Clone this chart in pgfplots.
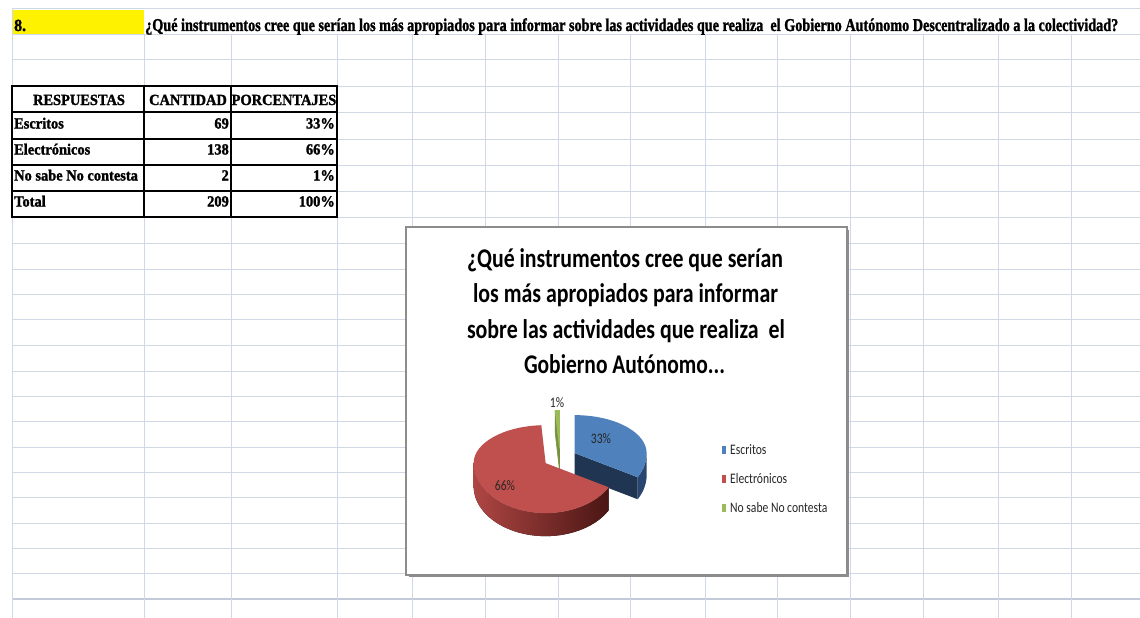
\documentclass[border=0pt]{standalone}
\usepackage{pgfplots}
\pgfplotsset{compat=1.18}
\usepackage{pgfplotstable}
\usepackage{graphicx}
\usepackage{fontspec}
\usetikzlibrary{calc}
\setmainfont{Carlito}
\newfontfamily\tnr{Liberation Serif}[FakeStretch=0.93,FakeBold=1.5]
\newfontfamily\calN{Carlito}[FakeStretch=0.8]
\definecolor{gridc}{HTML}{D0D7E5}
\definecolor{gridd}{HTML}{C3CBDB}
\definecolor{blueT}{HTML}{4F81BD}
\definecolor{blueS}{HTML}{1F3552}
\definecolor{blueS2}{HTML}{2A4670}
\definecolor{redT}{HTML}{C0504D}
\definecolor{redL}{HTML}{AE4643}
\definecolor{redM}{HTML}{963835}
\definecolor{redD}{HTML}{4A1614}
\definecolor{greenT}{HTML}{9BBB59}
\definecolor{greenS}{HTML}{76923C}
\definecolor{boxc}{HTML}{8C8C8C}
\definecolor{txt}{HTML}{262626}

\pgfplotstableread{
resp cant
Escritos 69
Electronicos 138
NoSabe 2
}\datatable

\newcommand\tb{\tnr\bfseries\fontsize{15.5}{15.5}\selectfont}
\newcommand\lgf{\calN\fontsize{14.5}{14.5}\selectfont}

\begin{document}%
\begin{tikzpicture}
\pgfplotstablegetelem{0}{cant}\of\datatable\edef\vA{\pgfplotsretval}
\pgfplotstablegetelem{1}{cant}\of\datatable\edef\vB{\pgfplotsretval}
\pgfplotstablegetelem{2}{cant}\of\datatable\edef\vC{\pgfplotsretval}
\pgfmathsetmacro\tot{\vA+\vB+\vC}
\pgfmathsetmacro\fA{\vA/\tot}
\pgfmathsetmacro\fB{\vB/\tot}
\pgfmathsetmacro\aB{90-360*\fA}
\pgfmathsetmacro\aC{\aB-360*\fB}
\pgfmathsetmacro\mB{(\aB+90)/2}
\pgfmathsetmacro\mR{(\aC+\aB)/2}
\pgfmathsetmacro\mG{(\aC-270)/2}
\def\rx{72pt}\def\ryB{38pt}\def\ryF{50pt}
\begin{axis}[x=1pt,y=1pt,y dir=reverse,xmin=0,xmax=1140,ymin=0,ymax=618,
  hide axis, clip=false]
\coordinate (TL) at (axis cs:0,0);
\coordinate (BR) at (axis cs:1140,618);
% yellow cell
\fill[yellow] (axis cs:12,10) rectangle (axis cs:144,35);
% spreadsheet grid
\pgfplotsinvokeforeach{9,35,60,86,112,139,165,191,217,243,269,294,319,345,371,396,421,447,472,497,523,548,573}{
  \draw[gridc,line width=1pt] (axis cs:12,#1) -- (axis cs:1140,#1);}
\draw[gridd,line width=2pt] (axis cs:12,599) -- (axis cs:1140,599);
\pgfplotsinvokeforeach{144,231,337,412,485,558,630,705,777,850,923,998,1071}{
  \draw[gridc,line width=1pt] (axis cs:#1,35) -- (axis cs:#1,618);}
\draw[gridc,line width=1pt] (axis cs:12,9) -- (axis cs:12,618);
% title row
\node[anchor=base west,inner sep=0] at (axis cs:14,31) {\tnr\bfseries\fontsize{17}{17}\selectfont 8.};
\node[anchor=base west,inner sep=0] at (axis cs:145,31) {\resizebox{973pt}{\height}{\tnr\bfseries\fontsize{18}{18}\selectfont ¿Qué instrumentos cree que serían los más apropiados para informar sobre las actividades que realiza\ \ el Gobierno Autónomo Descentralizado a la colectividad?}};
% table
\draw[black,line width=1.8pt] (axis cs:12,86) rectangle (axis cs:337,217);
\draw[black,line width=1.6pt] (axis cs:144,86) -- (axis cs:144,217) (axis cs:231,86) -- (axis cs:231,217)
  (axis cs:12,112) -- (axis cs:337,112) (axis cs:12,139) -- (axis cs:337,139)
  (axis cs:12,165) -- (axis cs:337,165) (axis cs:12,191) -- (axis cs:337,191);
\node[anchor=base,inner sep=0] at (axis cs:79,105) {\tb RESPUESTAS};
\node[anchor=base,inner sep=0] at (axis cs:188,105) {\tb CANTIDAD};
\node[anchor=base,inner sep=0] at (axis cs:284,105) {\tb PORCENTAJES};
\node[anchor=base west,inner sep=0] at (axis cs:14,128.5) {\tb Escritos};
\node[anchor=base west,inner sep=0] at (axis cs:14,154.5) {\tb Electrónicos};
\node[anchor=base west,inner sep=0] at (axis cs:14,180.5) {\tb No sabe No contesta};
\node[anchor=base west,inner sep=0] at (axis cs:14,206.5) {\tb Total};
\node[anchor=base east,inner sep=0] at (axis cs:229,128.5) {\tb 69};
\node[anchor=base east,inner sep=0] at (axis cs:229,154.5) {\tb 138};
\node[anchor=base east,inner sep=0] at (axis cs:229,180.5) {\tb 2};
\node[anchor=base east,inner sep=0] at (axis cs:229,206.5) {\tb 209};
\node[anchor=base east,inner sep=0] at (axis cs:335,128.5) {\tb 33\%};
\node[anchor=base east,inner sep=0] at (axis cs:335,154.5) {\tb 66\%};
\node[anchor=base east,inner sep=0] at (axis cs:335,180.5) {\tb 1\%};
\node[anchor=base east,inner sep=0] at (axis cs:335,206.5) {\tb 100\%};
% chart box
\fill[black!45] (axis cs:408.5,229.5) rectangle (axis cs:849,577);
\filldraw[fill=white,draw=boxc,line width=1.3pt] (axis cs:406,227) rectangle (axis cs:847,575);
% chart title
\node[anchor=base,inner sep=0] at (axis cs:625,267) {\resizebox{316pt}{\height}{\bfseries\fontsize{27}{27}\selectfont ¿Qué instrumentos cree que serían}};
\node[anchor=base,inner sep=0] at (axis cs:625.5,302) {\resizebox{305pt}{\height}{\bfseries\fontsize{27}{27}\selectfont los más apropiados para informar}};
\node[anchor=base,inner sep=0] at (axis cs:626,338) {\resizebox{318pt}{\height}{\bfseries\fontsize{27}{27}\selectfont sobre las actividades que realiza\ \ el}};
\node[anchor=base,inner sep=0] at (axis cs:624.5,373) {\resizebox{201pt}{\height}{\bfseries\fontsize{27}{27}\selectfont Gobierno Autónomo...}};
% pie
\coordinate (C) at (axis cs:560,458);
\coordinate (Cb) at ($(C)+(\mB:17pt and 9.6pt)$);
\coordinate (Cr) at ($(C)+(\mR:17pt and 9.6pt)$);
\coordinate (Cg) at ($(C)+(\mG:17pt and 9.6pt)$);
% green slice
\filldraw[greenS,line width=0.6pt] (Cg) -- ($(Cg)+(\aC:72pt and 38pt)$) -- ($(Cg)+(\aC:72pt and 38pt)+(0,-22pt)$) -- ($(Cg)+(0,-22pt)$) -- cycle;
\filldraw[greenT,line width=0.6pt] (Cg) -- ($(Cg)+(-270:72pt and 38pt)$) arc[start angle=-270,end angle=\aC,x radius=\rx,y radius=\ryB] -- cycle;
% blue slice
\fill[blueS2] ($(Cb)+(\aB:72pt and 50pt)$) arc[start angle=\aB,end angle=0,x radius=\rx,y radius=\ryF] -- ++(0,-22pt) arc[start angle=0,end angle=\aB,x radius=\rx,y radius=\ryF] -- cycle;
\fill[blueS] (Cb) -- ($(Cb)+(\aB:72pt and 50pt)$) -- ++(0,-22pt) -- ($(Cb)+(0,-22pt)$) -- cycle;
\fill[blueT] (Cb) -- ($(Cb)+(\aB:72pt and 50pt)$) arc[start angle=\aB,end angle=0,x radius=\rx,y radius=\ryF] arc[start angle=0,end angle=90,x radius=\rx,y radius=\ryB] -- cycle;
% red slice
\fill[left color=redL,middle color=redM,right color=redD] ($(Cr)+(-180:72pt and 50pt)$) arc[start angle=-180,end angle=\aB,x radius=\rx,y radius=\ryF] -- ++(0,-23pt) arc[start angle=\aB,end angle=-180,x radius=\rx,y radius=\ryF] -- cycle;
\fill[redT] (Cr) -- ($(Cr)+(\aC:72pt and 38pt)$) arc[start angle=\aC,end angle=-180,x radius=\rx,y radius=\ryB] arc[start angle=-180,end angle=\aB,x radius=\rx,y radius=\ryF] -- cycle;
% data labels
\node[anchor=base,inner sep=0,text=txt] at (axis cs:601,443) {\lgf 33\%};
\node[anchor=base,inner sep=0,text=txt] at (axis cs:505,490) {\lgf 66\%};
\node[anchor=base,inner sep=0,text=txt] at (axis cs:557,407) {\lgf 1\%};
% legend
\fill[blueT] (axis cs:722,446) rectangle (axis cs:726,454);
\fill[redT] (axis cs:722,475) rectangle (axis cs:726,483);
\fill[greenT] (axis cs:722,504) rectangle (axis cs:726,512);
\node[anchor=base west,inner sep=0,text=txt] at (axis cs:730,454) {\lgf Escritos};
\node[anchor=base west,inner sep=0,text=txt] at (axis cs:730,483) {\lgf Electrónicos};
\node[anchor=base west,inner sep=0,text=txt] at (axis cs:730,512) {\lgf No sabe No contesta};
\end{axis}
\pgfresetboundingbox
\path[use as bounding box] (TL) rectangle (BR);
\end{tikzpicture}%
\end{document}
